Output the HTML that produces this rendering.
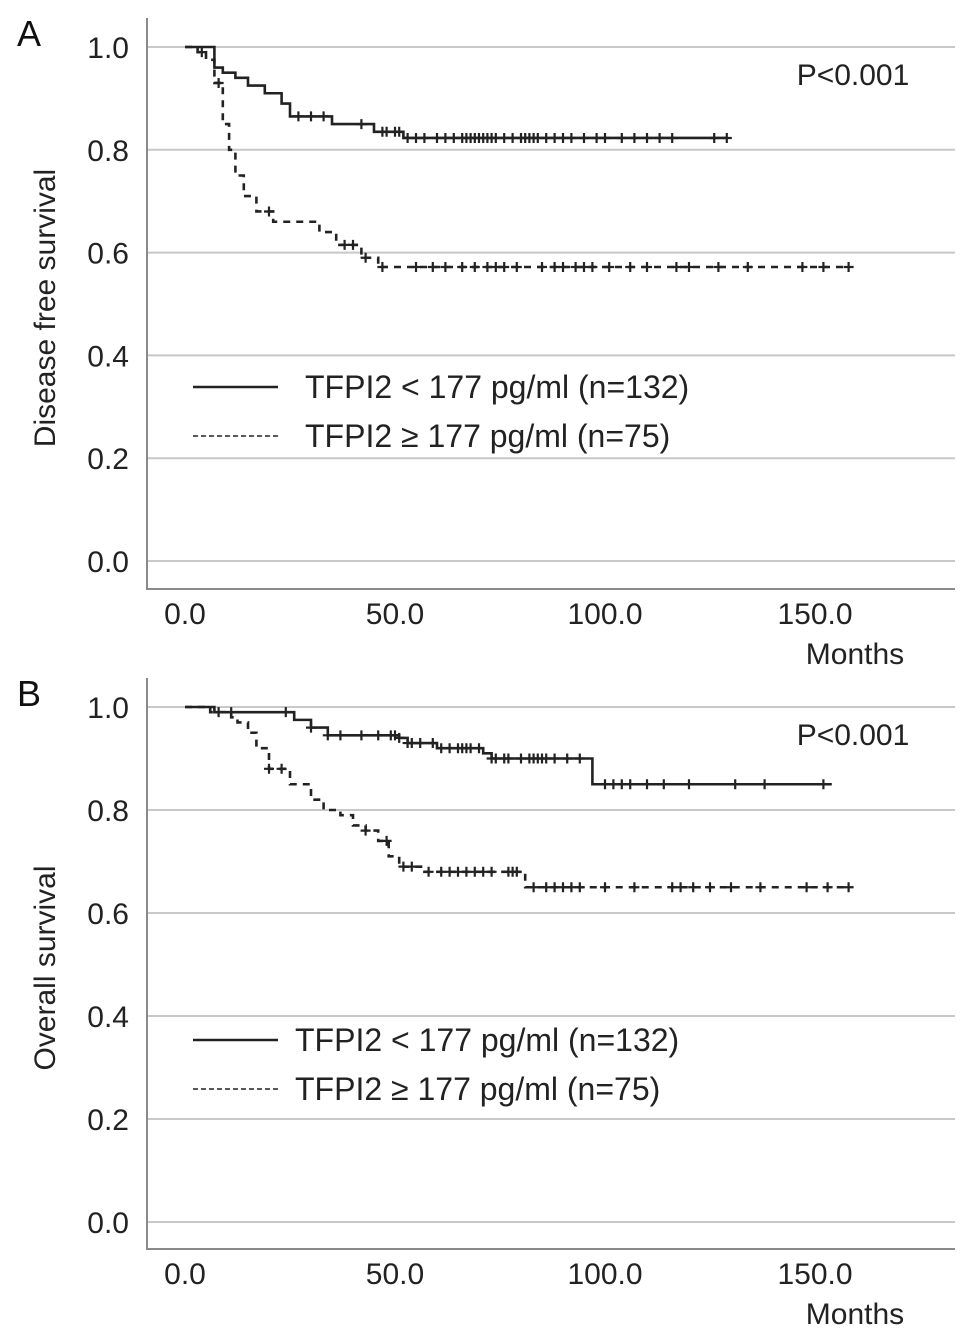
<!DOCTYPE html>
<html><head><meta charset="utf-8">
<style>
html,body{margin:0;padding:0;background:#fff;}
svg{display:block;font-family:"Liberation Sans",Arial,sans-serif;}
</style></head>
<body>
<svg id="chart" width="969" height="1340" viewBox="0 0 969 1340"></svg>
<script>
// Panel A - Disease free survival
const aSolidT = [0, 6, 7, 9, 12, 15, 19, 23, 25, 35, 45, 52, 129];
const aSolidS = [1.0, 1.0, 0.96, 0.95, 0.94, 0.925, 0.91, 0.89, 0.865, 0.85, 0.835, 0.823, 0.823];
const aSolidCens = [27,30,33,42,47,48,50,51,53,55,57,60,62,64,66,67,68,69,70,71,72,73,74,76,78,80,81,82,83,84,86,88,90,92,95,98,100,104,107,110,113,116,126,129];
const aDashT = [0, 3, 5, 7, 9, 10.5, 12, 14, 17, 21, 32, 36, 42, 46, 158];
const aDashS = [1.0, 0.99, 0.975, 0.93, 0.85, 0.8, 0.75, 0.71, 0.68, 0.66, 0.64, 0.615, 0.59, 0.572, 0.572];
const aDashCens = [4,8,20,38,40,43,47,55,59,62,66,69,72,74,76,79,85,88,90,93,95,97,101,106,110,117,120,127,134,147,152,158];
// Panel B - Overall survival
const bSolidT = [0, 7, 24, 26, 30, 34, 51, 53, 60, 71, 73, 97, 154];
const bSolidS = [1.0, 0.99, 0.99, 0.975, 0.96, 0.945, 0.94, 0.93, 0.92, 0.91, 0.90, 0.85, 0.85];
const bSolidCens = [11,24,30,34,37,42,46,49,50,51,53,54,56,59,61,63,65,66,67,68,70,73,74,76,77,80,82,83,84,85,86,88,91,94,100,102,104,106,110,114,120,131,138,152];
const bDashT = [0, 6, 11, 12.5, 15, 17, 20, 25, 30, 33, 37, 40, 43, 46, 48.5, 51, 57, 78, 81, 158];
const bDashS = [1.0, 0.99, 0.98, 0.97, 0.95, 0.92, 0.88, 0.85, 0.82, 0.80, 0.79, 0.77, 0.76, 0.74, 0.71, 0.69, 0.68, 0.68, 0.65, 0.65];
const bDashCens = [8,20,23,43,48,52,54,58,61,63,65,67,69,71,73,77,78,79,83,86,88,90,92,94,100,107,116,118,121,125,130,137,148,153,158];
const yTicks = [0, 0.2, 0.4, 0.6, 0.8, 1.0];
const xTicks = [0, 50, 100, 150];
const legendLabels = ["TFPI2 < 177 pg/ml (n=132)", "TFPI2 \u2265 177 pg/ml (n=75)"];

const svg = document.getElementById('chart');
const NS = 'http://www.w3.org/2000/svg';
const FS = 30;
function mk(tag, attrs, parent, text){
  const e = document.createElementNS(NS, tag);
  for (const k in attrs) e.setAttribute(k, attrs[k]);
  if (text !== undefined) e.textContent = text;
  parent.appendChild(e);
  return e;
}

function panel(cfg){
  const g = mk('g', {}, svg);
  
  
  const xs = m => 185 + m * 4.2;
  const ys = s => cfg.y0 - s * (cfg.y0 - cfg.y1);
  yTicks.forEach(t => {
    const l = mk('line', {x1:147, x2:955, y1:ys(t), y2:ys(t), stroke:'#c8c8c8', 'stroke-width':2}, g);
    
    
    const tx = mk('text', {x:129, y:ys(t)+11, 'text-anchor':'end', 'font-size':FS, fill:'#222'}, g, t.toFixed(1));
    
    
  });
  const ya = mk('line', {x1:147, x2:147, y1:cfg.top, y2:cfg.axisY, stroke:'#8a8a8a', 'stroke-width':2}, g);
  
  
  const xa = mk('line', {x1:146, x2:955, y1:cfg.axisY, y2:cfg.axisY, stroke:'#8a8a8a', 'stroke-width':2}, g);
  
  
  xTicks.forEach(t => {
    const tx = mk('text', {x:xs(t), y:cfg.axisY+35, 'text-anchor':'middle', 'font-size':FS, fill:'#222'}, g, t.toFixed(1));
    
    
  });
  const mt = mk('text', {x:855, y:cfg.axisY+75, 'text-anchor':'middle', 'font-size':FS, fill:'#222'}, g, 'Months');
  
  
  const yt = mk('text', {x:0, y:0, 'text-anchor':'middle', 'font-size':FS, fill:'#222', transform:`translate(55,${cfg.ytitleY}) rotate(-90)`}, g, cfg.ytitle);
  
  
  const pl = mk('text', {x:29, y:cfg.top+28, 'text-anchor':'middle', 'font-size':36, fill:'#111'}, g, cfg.letter);
  
  
  const pv = mk('text', {x:853, y:ys(1)+38, 'text-anchor':'middle', 'font-size':FS, fill:'#222'}, g, 'P<0.001');
  
  

  function stepCurve(T, S, cens, dash, name){
    let d = `M${xs(T[0])},${ys(S[0])}`;
    for (let i = 1; i < T.length; i++){
      d += ` H${xs(T[i])} V${ys(S[i])}`;
    }
    const p = mk('path', {d:d, fill:'none', stroke:'#222', 'stroke-width':2.6, 'stroke-dasharray': dash ? '7 6' : 'none'}, g);
    
    
    cens.forEach(c => {
      let s = S[0];
      for (let i = 0; i < T.length; i++) if (T[i] <= c) s = S[i];
      const x = xs(c), y = ys(s);
      const m = mk('path', {d:`M${x-5},${y} H${x+5} M${x},${y-5} V${y+5}`, stroke:'#222', 'stroke-width':2.2}, g);
      
      
    });
  }
  stepCurve(cfg.sT, cfg.sS, cfg.sC, false, 'low-tfpi2');
  stepCurve(cfg.dT, cfg.dS, cfg.dC, true, 'high-tfpi2');

  const lg = mk('g', {}, g);
  
  
  [0,1].forEach(i => {
    const y = cfg.legY + i * 49;
    const l = mk('line', {x1:193, x2:278, y1:y, y2:y, stroke:'#222', 'stroke-width': i ? 1.6 : 2.4, 'stroke-dasharray': i ? '5 3' : 'none'}, lg);
    
    
    const t = mk('text', {x:cfg.legX, y:y+11, 'font-size':32, fill:'#222'}, lg, legendLabels[i]);
    
    
  });
}

panel({name:'panel-a', letter:'A', top:18, axisY:589, y0:561, y1:47, ytitle:'Disease free survival', ytitleY:308, legX:305, legY:387,
  sT:aSolidT, sS:aSolidS, sC:aSolidCens, dT:aDashT, dS:aDashS, dC:aDashCens});
panel({name:'panel-b', letter:'B', top:678, axisY:1249, y0:1222, y1:707, ytitle:'Overall survival', ytitleY:968, legX:295, legY:1040,
  sT:bSolidT, sS:bSolidS, sC:bSolidCens, dT:bDashT, dS:bDashS, dC:bDashCens});
</script>
</body></html>
